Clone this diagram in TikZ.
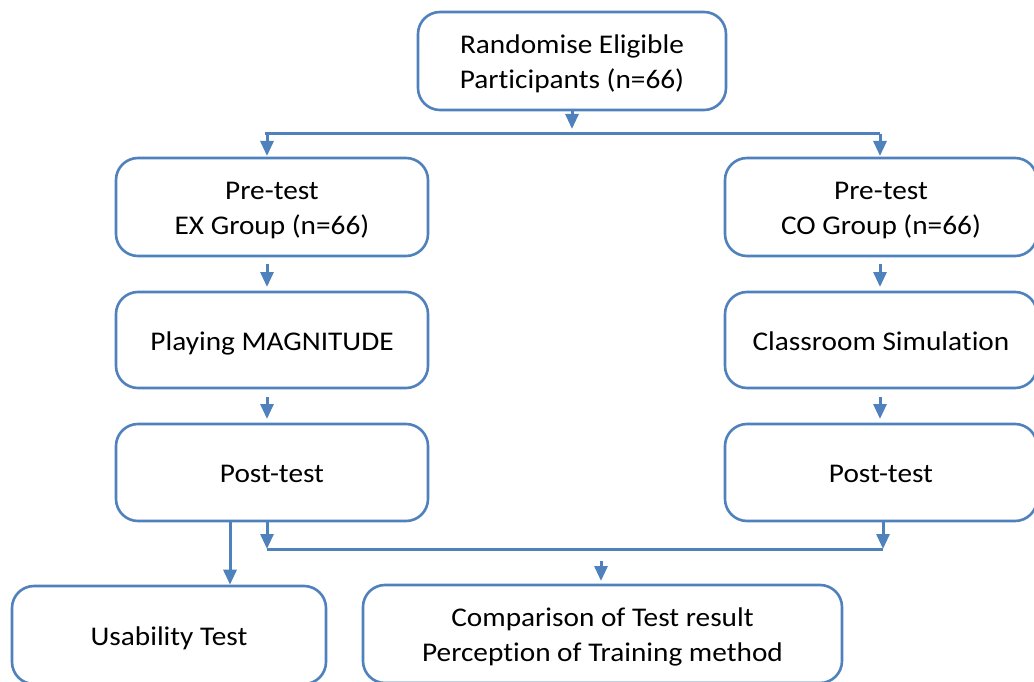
\documentclass[tikz,border=0pt]{standalone}
\usepackage{fontspec}
\setmainfont[Ligatures=NoCommon,FakeStretch=1.085]{Carlito}
\usetikzlibrary{arrows.meta}
\definecolor{bord}{RGB}{79,129,189}
\newcommand\myhs{\rule{0pt}{27pt}}
\newcommand\myds{\rule[-7pt]{0pt}{7pt}}
\begin{document}
\begin{tikzpicture}[x=1pt,y=-1pt,
  box/.style={draw=bord,line width=2.6pt,rounded corners=22pt,fill=white,align=center,
    font=\fontsize{27}{35}\selectfont,inner sep=0pt},
  conn/.style={draw=bord,line width=3pt},
  arr/.style={conn,-{Triangle[width=13pt,length=15pt]}}]
\useasboundingbox (0,0) rectangle (1034,682);
\node[box,minimum width=308pt,minimum height=98pt] (top) at (572,61) {\myhs Randomise Eligible\\Participants (n=66)\myds};
\node[box,minimum width=312pt,minimum height=98pt] (preex) at (272,207) {\myhs Pre-test\\EX Group (n=66)\myds};
\node[box,minimum width=312pt,minimum height=98pt] (preco) at (881,207) {\myhs Pre-test\\CO Group (n=66)\myds};
\node[box,minimum width=312pt,minimum height=96pt] (play) at (272,340) {\myhs Playing MAGNITUDE\myds};
\node[box,minimum width=312pt,minimum height=96pt] (sim) at (881,340) {\myhs Classroom Simulation\myds};
\node[box,minimum width=312pt,minimum height=97pt] (postex) at (272,472.5) {\myhs Post-test\myds};
\node[box,minimum width=312pt,minimum height=97pt] (postco) at (881,472.5) {\myhs Post-test\myds};
\node[box,minimum width=314pt,minimum height=98pt] (usab) at (169,635) {\myhs Usability Test\myds};
\node[box,minimum width=479pt,minimum height=98pt] (comp) at (602.5,634) {\myhs Comparison of Test result\\Perception of Training method\myds};
% top split
\coordinate (t1) at (572,129);
\draw[arr] (top.south) -- (t1);
\coordinate (hl) at (265,134);
\coordinate (hr) at (880,134);
\draw[conn] (hl) -- (hr);
\draw[arr] (267,134) -- (267,156);
\draw[arr] (hr) -- (880,156);
% between boxes
\coordinate (a1) at (267,264);
\coordinate (a2) at (267,287);
\draw[arr] (a1) -- (a2);
\coordinate (b1) at (880,264);
\coordinate (b2) at (880,287);
\draw[arr] (b1) -- (b2);
\coordinate (c1) at (267,397);
\coordinate (c2) at (267,419);
\draw[arr] (c1) -- (c2);
\coordinate (d1) at (880,397);
\coordinate (d2) at (880,419);
\draw[arr] (d1) -- (d2);
% bottom
\draw[arr] (230,521) -- (usab.north -| 230,0) ;
\coordinate (ml) at (267,549);
\coordinate (mr) at (883,549);
\draw[arr] (267,521) -- (ml);
\draw[arr] (883,521) -- (mr);
\draw[conn] (ml) -- (mr);
\coordinate (e1) at (601,561);
\coordinate (e2) at (601,581);
\draw[arr] (e1) -- (e2);
\end{tikzpicture}
\end{document}
